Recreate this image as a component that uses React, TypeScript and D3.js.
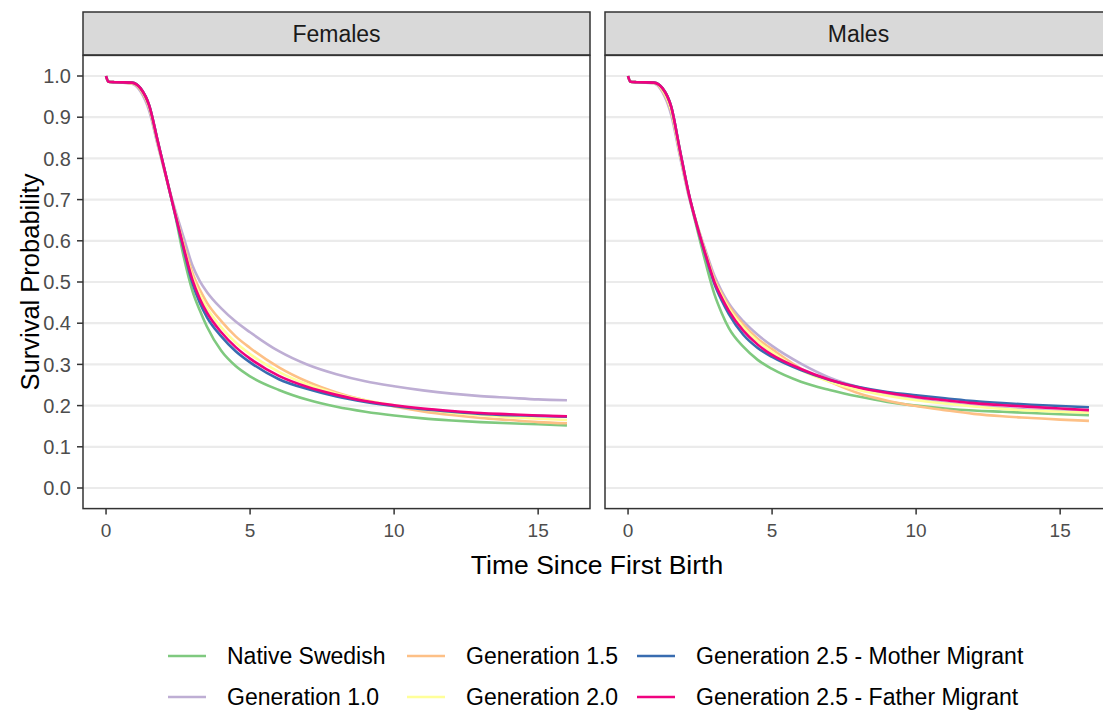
import React from 'react';
import * as d3 from 'd3';

// time points (years since first birth)
const times = [0, 0.08, 0.3, 0.9, 1.2, 1.5, 1.8, 2.1, 2.4, 2.7, 3.0, 3.25, 3.5, 4, 4.5, 5, 6, 7, 8, 9, 10, 11, 12, 13, 14, 15, 16];

const groups = [
  'Native Swedish',
  'Generation 1.0',
  'Generation 1.5',
  'Generation 2.0',
  'Generation 2.5 - Mother Migrant',
  'Generation 2.5 - Father Migrant',
];
const colors = ['#7FC97F', '#BEAED4', '#FDC086', '#FFFF99', '#386CB0', '#F0027F'];

const panels = ['Females', 'Males'];

// Females survival curves
const femNative = [1, .986, .985, .984, .97, .928, .84, .752, .662, .56, .478, .432, .392, .333, .296, .271, .238, .214, .197, .185, .176, .169, .164, .16, .157, .155, .152];
const femGen10 = [1, .986, .985, .981, .962, .915, .83, .75, .675, .607, .54, .503, .476, .436, .404, .378, .332, .299, .276, .259, .247, .237, .229, .223, .219, .215, .213];
const femGen15 = [1, .986, .985, .982, .966, .922, .835, .75, .668, .592, .522, .482, .45, .405, .368, .34, .293, .258, .232, .213, .198, .186, .177, .17, .165, .16, .157];
const femGen20 = [1, .986, .985, .983, .968, .925, .837, .75, .666, .585, .512, .47, .437, .39, .353, .325, .282, .251, .229, .213, .201, .191, .183, .177, .172, .168, .165];
const femMother = [1, .986, .985, .984, .97, .928, .84, .752, .664, .578, .497, .45, .415, .368, .332, .305, .264, .24, .222, .209, .199, .191, .185, .18, .177, .175, .173];
const femFather = [1, .986, .985, .984, .97, .928, .84, .752, .665, .582, .505, .46, .426, .378, .342, .314, .272, .245, .226, .211, .201, .193, .187, .182, .179, .176, .174];

// Males survival curves
const maleNative = [1, .986, .985, .984, .97, .925, .82, .715, .628, .545, .47, .425, .388, .343, .311, .289, .258, .238, .222, .209, .2, .193, .188, .185, .182, .179, .177];
const maleGen10 = [1, .986, .985, .982, .96, .905, .805, .71, .638, .575, .515, .478, .448, .405, .372, .345, .302, .268, .245, .228, .216, .207, .2, .194, .19, .187, .185];
const maleGen15 = [1, .986, .985, .983, .964, .914, .812, .714, .638, .57, .508, .472, .442, .397, .362, .337, .29, .258, .23, .212, .199, .189, .18, .174, .17, .166, .163];
const maleGen20 = [1, .986, .985, .983, .966, .918, .815, .715, .637, .567, .503, .467, .436, .39, .356, .33, .286, .258, .238, .224, .213, .205, .198, .192, .188, .185, .183];
const maleMother = [1, .986, .985, .984, .97, .925, .82, .717, .635, .562, .495, .455, .422, .372, .34, .318, .286, .262, .245, .233, .225, .218, .211, .206, .202, .199, .196];
const maleFather = [1, .986, .985, .984, .97, .925, .82, .717, .635, .565, .5, .462, .43, .382, .348, .323, .289, .263, .244, .231, .221, .213, .206, .201, .197, .193, .189];

const series = {
  Females: [femNative, femGen10, femGen15, femGen20, femMother, femFather],
  Males: [maleNative, maleGen10, maleGen15, maleGen20, maleMother, maleFather],
};

const yTicks = [0, 0.1, 0.2, 0.3, 0.4, 0.5, 0.6, 0.7, 0.8, 0.9, 1.0];
const xTicks = [0, 5, 10, 15];

const W = 1103;
const H = 711;
const font = '"Liberation Sans", Arial, Helvetica, sans-serif';
const panelLefts = [83, 605];
const panelWidth = 507;
const stripTop = 12;
const stripBottom = 55;

export default function App() {
  const y = d3.scaleLinear().domain([-0.05, 1.05]).range([508.6, 55.4]);
  const panelTop = y(1.05);
  const panelBottom = y(-0.05);

  const legendCols = [168, 407, 637];
  const legendRows = [656, 697];

  return (
    <svg width={W} height={H} style={{ position: 'absolute', left: 0, top: 0, background: '#fff' }} fontFamily={font}>
      <rect x={0} y={0} width={W} height={H} fill="#fff" />
      {panels.map((p, pi) => {
        const left = panelLefts[pi];
        const x = d3.scaleLinear().domain([-0.8, 16.8]).range([left, left + panelWidth]);
        const line = d3.line<number>()
          .x((_, i) => x(times[i]))
          .y(d => y(d))
          .curve(d3.curveMonotoneX);
        return (
          <g key={p}>
            {/* strip */}
            <rect x={left} y={stripTop} width={panelWidth} height={stripBottom - stripTop}
              fill="#D9D9D9" stroke="#333333" strokeWidth={1.5} />
            <text x={left + panelWidth / 2} y={(stripTop + stripBottom) / 2} dy="0.36em"
              textAnchor="middle" fontSize={23} fill="#1A1A1A">{p}</text>
            {/* panel background + grid */}
            <rect x={left} y={panelTop} width={panelWidth} height={panelBottom - panelTop} fill="#fff" />
            {yTicks.map(t => (
              <line key={t} x1={left} x2={left + panelWidth} y1={y(t)} y2={y(t)}
                stroke="#EBEBEB" strokeWidth={2.2} />
            ))}
            {/* curves */}
            {series[p].map((vals, si) => (
              <path key={si} d={line(vals) || ''} fill="none" stroke={colors[si]}
                strokeWidth={2.6} strokeLinejoin="round" strokeLinecap="butt" />
            ))}
            <rect x={left} y={panelTop} width={panelWidth} height={panelBottom - panelTop}
              fill="none" stroke="#333333" strokeWidth={1.5} />
            {/* x axis */}
            {xTicks.map(t => (
              <g key={t}>
                <line x1={x(t)} x2={x(t)} y1={panelBottom} y2={panelBottom + 6} stroke="#333333" strokeWidth={1.5} />
                <text x={x(t)} y={panelBottom + 22} dy="0.36em" textAnchor="middle" fontSize={19} fill="#4D4D4D">{t}</text>
              </g>
            ))}
          </g>
        );
      })}
      {/* y axis */}
      {yTicks.map(t => (
        <g key={t}>
          <line x1={panelLefts[0] - 6} x2={panelLefts[0]} y1={y(t)} y2={y(t)} stroke="#333333" strokeWidth={1.5} />
          <text x={panelLefts[0] - 12} y={y(t)} dy="0.36em" textAnchor="end" fontSize={20} fill="#4D4D4D">{t.toFixed(1)}</text>
        </g>
      ))}
      <text transform={`translate(30,${(panelTop + panelBottom) / 2}) rotate(-90)`} dy="0.36em"
        textAnchor="middle" fontSize={25.5} fill="#000">Survival Probability</text>
      <text x={597} y={564} dy="0.36em" textAnchor="middle" fontSize={26.5} fill="#000">Time Since First Birth</text>
      {/* legend */}
      {groups.map((g, i) => {
        const col = Math.floor(i / 2);
        const row = i % 2;
        const kx = legendCols[col];
        const ky = legendRows[row];
        return (
          <g key={g}>
            <line x1={kx} x2={kx + 38} y1={ky} y2={ky} stroke={colors[i]} strokeWidth={2.6} />
            <text x={kx + 59} y={ky} dy="0.36em" fontSize={23} fill="#000">{g}</text>
          </g>
        );
      })}
    </svg>
  );
}
